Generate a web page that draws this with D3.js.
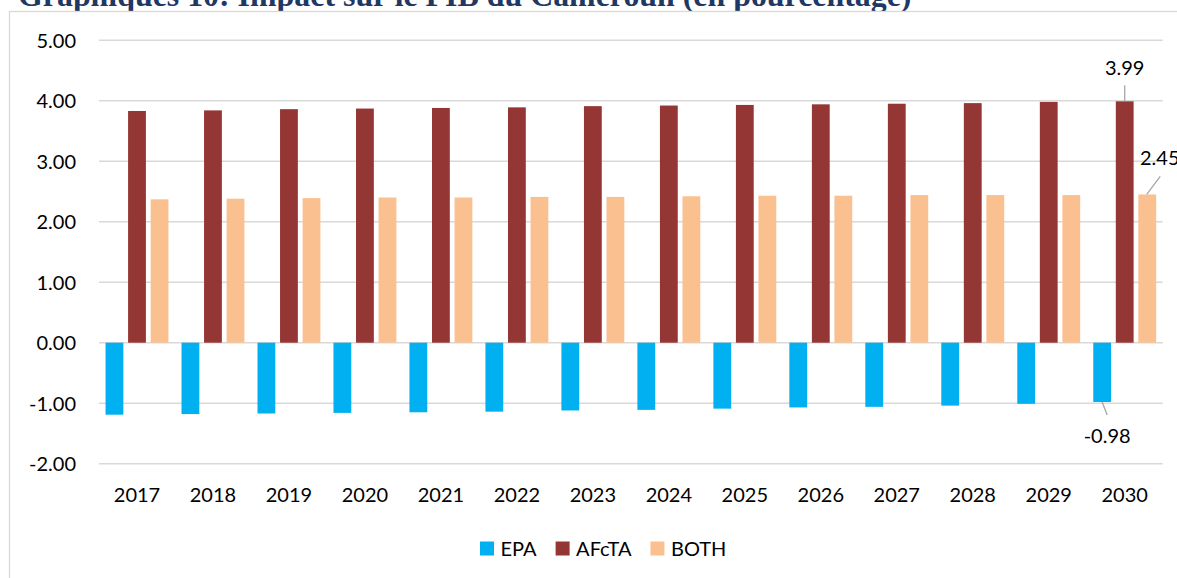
<!DOCTYPE html>
<html>
<head>
<meta charset="utf-8">
<script src="https://cdnjs.cloudflare.com/ajax/libs/d3/7.8.5/d3.min.js"></script>
<style>
  html, body { margin: 0; padding: 0; background: #fff; overflow: hidden; }
  svg { display: block; }
</style>
</head>
<body>
<svg id="chart" width="1177" height="578"></svg>
<script>
const titleText = "Graphiques 10: Impact sur le PIB du Cameroun (en pourcentage)";
const years = ["2017","2018","2019","2020","2021","2022","2023","2024","2025","2026","2027","2028","2029","2030"];
const seriesNames = ["EPA", "AFcTA", "BOTH"];
const epa   = [-1.19,-1.18,-1.17,-1.16,-1.15,-1.14,-1.12,-1.11,-1.09,-1.07,-1.06,-1.04,-1.01,-0.98];
const afcta = [3.83,3.84,3.86,3.87,3.88,3.89,3.91,3.92,3.93,3.94,3.95,3.96,3.98,3.99];
const both  = [2.37,2.38,2.39,2.40,2.40,2.41,2.41,2.42,2.43,2.43,2.44,2.44,2.44,2.45];
const yTicks = [-2,-1,0,1,2,3,4,5];
const seriesColors = ["#00B0F0", "#943634", "#FAC090"];
const seriesValues = [epa, afcta, both];

const svg = d3.select("#chart");
const font = "Lato, 'Open Sans', sans-serif";
const fmt = v => d3.format(".2f")(v).replace("\u2212", "-");

// Title (cut off at top)
const title = svg.append("text")
  .attr("x", 18).attr("y", 6)
  .attr("font-family", "'Liberation Serif', 'Times New Roman', serif")
  .attr("font-weight", "bold")
  .attr("font-size", 28)
  .attr("fill", "#1F3864")
  .text(titleText);
const tw = title.node().getComputedTextLength();
title.attr("font-size", 28 * 894 / tw);

// Chart frame
svg.append("rect")
  .attr("x", 9.5).attr("y", 11.5)
  .attr("width", 1200).attr("height", 600)
  .attr("fill", "#fff").attr("stroke", "#d9d9d9").attr("stroke-width", 1.3);

const x = d3.scaleBand().domain(years).range([99, 1162.7]).padding(0);
const xs = d3.scaleBand().domain(seriesNames).range([0, x.bandwidth()])
  .paddingInner(0.21).paddingOuter(0.29);
const y = d3.scaleLinear().domain([-2, 5]).range([463.7, 40.2]);

// Gridlines
svg.append("g").selectAll("line").data(yTicks).join("line")
  .attr("x1", 99).attr("x2", 1162.7)
  .attr("y1", d => y(d)).attr("y2", d => y(d))
  .attr("stroke", "#d9d9d9").attr("stroke-width", 1.5);

// Y axis labels
const yAxis = d3.axisLeft(y).tickValues(yTicks).tickFormat(fmt).tickSize(0).tickPadding(0);
const yg = svg.append("g").attr("transform", "translate(76,0)").call(yAxis);
yg.select(".domain").remove();
yg.selectAll("text").attr("font-family", font).attr("font-size", 20).attr("fill", "#000").attr("dy", "0.35em");

// Bars
const data = [];
years.forEach((yr, i) => seriesNames.forEach((s, j) => data.push({ yr, s, v: seriesValues[j][i], c: seriesColors[j] })));
svg.append("g").selectAll("rect").data(data).join("rect")
  .attr("x", d => x(d.yr) + xs(d.s))
  .attr("width", xs.bandwidth())
  .attr("y", d => Math.min(y(0), y(d.v)))
  .attr("height", d => Math.abs(y(d.v) - y(0)))
  .attr("fill", d => d.c);

// X axis labels
const xAxis = d3.axisBottom(x).tickSize(0).tickPadding(0);
const xg = svg.append("g").attr("transform", "translate(0,495)").call(xAxis);
xg.select(".domain").remove();
xg.selectAll("text").attr("font-family", font).attr("font-size", 20).attr("fill", "#000").attr("dy", "0.35em").attr("y", 0);

// Data labels with leader lines (last year)
const last = years[years.length - 1];
const li = years.length - 1;
const cx = s => x(last) + xs(s) + xs.bandwidth() / 2;
const lab = svg.append("g").attr("font-family", font).attr("font-size", 20).attr("fill", "#000");
// AFcTA
lab.append("line").attr("x1", cx("AFcTA")).attr("x2", cx("AFcTA"))
  .attr("y1", y(afcta[li]) - 16).attr("y2", y(afcta[li])).attr("stroke", "#a6a6a6").attr("stroke-width", 1.3);
lab.append("text").attr("x", cx("AFcTA")).attr("y", y(afcta[li]) - 33).attr("dy", "0.35em")
  .attr("text-anchor", "middle").text(fmt(afcta[li]));
// BOTH
lab.append("line").attr("x1", cx("BOTH") - 0.5).attr("y1", y(both[li]))
  .attr("x2", cx("BOTH") + 13).attr("y2", y(both[li]) - 18).attr("stroke", "#a6a6a6").attr("stroke-width", 1.3);
lab.append("text").attr("x", 1140).attr("y", y(both[li]) - 36).attr("dy", "0.35em")
  .text(fmt(both[li]));
// EPA
lab.append("line").attr("x1", cx("EPA")).attr("y1", y(epa[li]))
  .attr("x2", cx("EPA") + 5).attr("y2", y(epa[li]) + 13).attr("stroke", "#a6a6a6").attr("stroke-width", 1.3);
lab.append("text").attr("x", cx("EPA") + 5).attr("y", y(epa[li]) + 34).attr("dy", "0.35em")
  .attr("text-anchor", "middle").text(fmt(epa[li]));

// Legend
const leg = svg.append("g").attr("font-family", font).attr("font-size", 20).attr("fill", "#000");
let lx = 480;
seriesNames.forEach((s, j) => {
  leg.append("rect").attr("x", lx).attr("y", 541.5).attr("width", 14).attr("height", 14).attr("fill", seriesColors[j]);
  const t = leg.append("text").attr("x", lx + 20.5).attr("y", 548.5).attr("dy", "0.35em").text(s);
  lx += 20.5 + t.node().getComputedTextLength() + 19;
});
</script>
</body>
</html>
